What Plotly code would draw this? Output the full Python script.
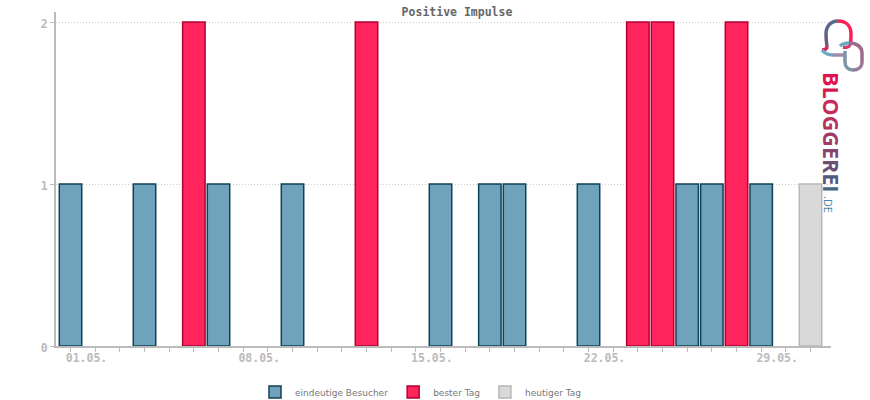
import plotly.graph_objects as go

days = ["%02d.05." % d for d in range(1, 32)]
labels = [d if (i % 7 == 0) else "" for i, d in enumerate(days)]
visitors = [1,None,None,1,None,None,1,None,None,1,None,None,None,None,None,1,None,1,1,None,None,1,None,None,None,1,1,None,1,None,None]
best     = [None,None,None,None,None,2,None,None,None,None,None,None,2,None,None,None,None,None,None,None,None,None,None,2,2,None,None,2,None,None,None]
today    = [None]*30 + [1]

fig = go.Figure()
for name, vals, fill, line in [
    ("eindeutige Besucher", visitors, "#6fa3bb", "#0f4257"),
    ("bester Tag", best, "#ff255c", "#b00035"),
    ("heutiger Tag", today, "#d9d9d9", "#b8b8b8"),
]:
    fig.add_bar(x=days, y=vals, name=name, width=0.91,
                marker=dict(color=fill, line=dict(color=line, width=1.5)))

mono = "DejaVu Sans Mono"
L, T, B = 56, 12, 346
W, H = 775, 334
px = lambda x: (x - L) / W
py = lambda y: (B - y) / H

fig.update_layout(
    width=870, height=400, autosize=False, barmode="overlay",
    margin=dict(l=56, r=39, t=12, b=54),
    plot_bgcolor="white", paper_bgcolor="white",
    title=dict(text="<b>Positive Impulse</b>", x=457/870, xanchor="center", y=1-12/400, yanchor="middle",
               font=dict(family=mono, size=11.5, color="#666666")),
    legend=dict(orientation="h", xref="container", yref="container", x=255/870, y=8/400, xanchor="left", yanchor="middle",
                bgcolor="rgba(0,0,0,0)",
                font=dict(family="DejaVu Sans", size=9, color="#777777"), itemwidth=30),
    xaxis=dict(type="category", categoryorder="array", categoryarray=days,
               range=[-0.588, 30.83], tickmode="array", tickvals=days, ticktext=labels,
               showgrid=False, ticks="outside", ticklen=4, tickcolor="#bbbbbb", tickwidth=1,
               showline=True, linecolor="#bbbbbb", linewidth=2, ticklabelshift=16, ticklabelstandoff=-4,
               tickfont=dict(family=mono, size=11.5, color="#bbbbbb", weight="bold"), tickangle=0, zeroline=False),
    yaxis=dict(range=[0, 2.062], tickvals=[0, 1, 2], ticks="outside", ticklen=4, tickcolor="#bbbbbb",
               showline=True, linecolor="#bbbbbb", linewidth=2, zeroline=False, ticklabelshift=2,
               showgrid=True, gridcolor="#cccccc", griddash="1px,2px", gridwidth=1,
               tickfont=dict(family=mono, size=11.5, color="#bbbbbb", weight="bold")),
)

# Logo wordmark, letter-by-letter tint
word = "BLOGGEREI"
tints = ["#e0134f","#d8194f","#c92a5a","#b53560","#a03c68","#85476f","#6a5078","#555a80","#4a6485"]
text = "".join(f'<span style="color:{c}"><b>{ch}</b></span>' for ch, c in zip(word, tints))
fig.add_annotation(xref="paper", yref="paper", x=px(832), y=py(132), text=text, textangle=90,
                   showarrow=False, font=dict(family="Open Sans", size=21.5), xanchor="center", yanchor="middle")
fig.add_annotation(xref="paper", yref="paper", x=px(829), y=py(204), text=".DE", textangle=90,
                   showarrow=False, font=dict(family="Open Sans", size=11, color="#4a86a8"),
                   xanchor="center", yanchor="middle")

# Logo emblem: pieces of the speech bubble and link ring
def pt(x, y):
    return f"{px(x):.5f} {py(y):.5f}"
def curve(points):
    d = "M " + pt(*points[0])
    for i in range(1, len(points), 3):
        d += " C " + " ".join(pt(*p) for p in points[i:i+3])
    return d
pieces = [
    ("#6d5a80", [(827,46),(826,40),(826,36),(826,34)]),
    ("#5a6a8a", [(826,34),(826,26),(831,21),(838,21)]),
    ("#ff1f55", [(838,21),(846,21),(851,26),(851,34),(851,38),(851,42),(850,45)]),
    ("#d0406f", [(850,45),(849,47),(846,48),(843,47)]),
    ("#d4285c", [(827,46),(827,49),(825,50),(822,50)]),
    ("#6fa8c0", [(822,50),(825,54),(828,55),(833,55)]),
    ("#a08aa8", [(833,55),(837,55),(841,55),(844,55)]),
    ("#6fa8c0", [(840,46),(842,44),(845,43),(849,43)]),
    ("#a06a8a", [(849,43),(857,43),(862,47),(862,53),(862,57),(862,60),(862,62)]),
    ("#9a7a9a", [(862,62),(862,67),(858,70),(853,70)]),
    ("#7f93a8", [(853,70),(848,70),(845,67),(845,62),(845,60),(845,55),(845,51)]),
]
for color, points in pieces:
    fig.add_shape(type="path", xref="paper", yref="paper", path=curve(points),
                  line=dict(color=color, width=3.5), layer="above")

fig.write_html("out.html", config=dict(displayModeBar=False), post_script="document.body.style.margin='0';")
